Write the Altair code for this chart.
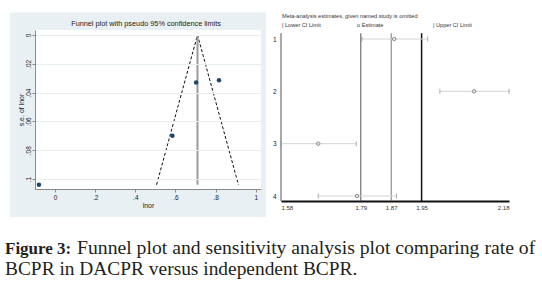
import altair as alt
import pandas as pd

# ---------------- Funnel plot ----------------
study_lnor = [0.817, 0.703, 0.585, -0.08]
study_se = [0.0315, 0.033, 0.070, 0.104]
funnel_lnor = [0.506, 0.71, 0.914]
funnel_se = [0.104, 0.0, 0.104]
pooled_lnor = [0.71]
pooled_se_top = [0.0]
pooled_se_bottom = [0.104]
left_x_ticks = [0, 0.2, 0.4, 0.6, 0.8, 1.0]
left_y_ticks = [0, 0.02, 0.04, 0.06, 0.08, 0.1]

# ---------------- Sensitivity analysis ----------------
studies = [1, 2, 3, 4]
lower_ci = [1.793, 1.998, 1.58, 1.678]
estimate = [1.878, 2.088, 1.678, 1.78]
upper_ci = [1.966, 2.18, 1.778, 1.884]
dark_grey_lines = [1.58, 1.79]
mid_grey_lines = [1.87]
dark_lines = [1.95]
right_x_ticks = [1.58, 1.79, 1.87, 1.95, 2.18]

SANS = "Liberation Sans"
SERIF = "Liberation Serif"
LW, LH = 226, 159
RW, RH = 228, 171

one = pd.DataFrame({"k": [0]})

xl = dict(scale=alt.Scale(domain=[-0.0997, 1.0264], nice=False, zero=False))
yl = dict(scale=alt.Scale(domain=[-0.00347, 0.10694], reverse=True, nice=False, zero=False))

x_axis_left = alt.Axis(
    values=left_x_ticks,
    labelExpr="datum.value == 0 ? '0' : datum.value == 1 ? '1' : replace(format(datum.value, '.1f'), '0.', '.')",
    grid=False, domainColor="#8a8a8a", tickColor="#8a8a8a", tickSize=3,
    labelFont=SANS, labelFontSize=6.5, labelColor="#222", labelPadding=2,
    title="lnor", titleFont=SANS, titleFontSize=7, titleFontWeight="normal", titleColor="#222",
    titleX=113, titleY=16.5, titleBaseline="middle", titleAlign="center", zindex=1,
)
y_axis_left = alt.Axis(
    values=left_y_ticks,
    labelExpr="datum.value == 0 ? '0' : replace(format(datum.value, '.2~f'), '0.', '.')",
    grid=True, gridColor="#e8eff1", gridWidth=1,
    domainColor="#8a8a8a", tickColor="#8a8a8a", tickSize=3,
    labelAngle=270, labelAlign="center", labelBaseline="bottom", labelPadding=1,
    labelFont=SANS, labelFontSize=6.5, labelColor="#222",
    title="s.e. of lnor", titleFont=SANS, titleFontSize=7, titleFontWeight="normal", titleColor="#222",
    titleAngle=270, titleX=-14, titleY=79.5, titleAlign="center", titleBaseline="middle", zindex=1,
)

bg = alt.Chart(one).mark_rect(color="#e9f0f3").encode(
    x=alt.value(-25), x2=alt.value(231), y=alt.value(-17.5), y2=alt.value(187)
)
plot_bg = alt.Chart(one).mark_rect(color="white").encode(
    x=alt.value(0), x2=alt.value(LW), y=alt.value(0), y2=alt.value(LH)
)

pts_df = pd.DataFrame({"lnor": study_lnor, "se": study_se})
points = alt.Chart(pts_df).mark_circle(size=20, color="#1a476f", opacity=1).encode(
    x=alt.X("lnor:Q", axis=x_axis_left, **xl),
    y=alt.Y("se:Q", axis=y_axis_left, **yl),
)

funnel_df = pd.DataFrame({"lnor": funnel_lnor, "se": funnel_se})
funnel = alt.Chart(funnel_df).mark_line(color="#111", strokeWidth=1, strokeDash=[3, 2]).encode(
    x=alt.X("lnor:Q", axis=x_axis_left, **xl),
    y=alt.Y("se:Q", axis=y_axis_left, **yl),
)

pooled_df = pd.DataFrame({"lnor": pooled_lnor, "se": pooled_se_top, "se2": pooled_se_bottom})
pooled = alt.Chart(pooled_df).mark_rule(color="#9a9a9a", strokeWidth=2).encode(
    x=alt.X("lnor:Q", axis=x_axis_left, **xl),
    y=alt.Y("se:Q", axis=y_axis_left, **yl),
    y2="se2:Q",
)

left_title = alt.Chart(one).mark_text(
    text="Funnel plot with pseudo 95% confidence limits", font=SANS, fontSize=7.3,
    color="#222", align="center", baseline="middle",
).encode(x=alt.value(111), y=alt.value(-6))

cap_bold = alt.Chart(one).mark_text(
    text="Figure 3:", font=SERIF, fontSize=17, fontWeight="bold", color="#231f20",
    align="left", baseline="alphabetic",
).encode(x=alt.value(-30), y=alt.value(224))
cap_l1 = alt.Chart(one).mark_text(
    text="Funnel plot and sensitivity analysis plot comparing rate of", font=SERIF, fontSize=19.7,
    color="#231f20", align="left", baseline="alphabetic",
).encode(x=alt.value(42), y=alt.value(224))
cap_l2 = alt.Chart(one).mark_text(
    text="BCPR in DACPR versus independent BCPR.", font=SERIF, fontSize=19.4,
    color="#231f20", align="left", baseline="alphabetic",
).encode(x=alt.value(-30), y=alt.value(245))

left = alt.layer(bg, plot_bg, funnel, pooled, points, left_title, cap_bold, cap_l1, cap_l2).properties(
    width=LW, height=LH
)

# ---------------- right panel ----------------
xr = dict(scale=alt.Scale(domain=[1.58, 2.18], nice=False, zero=False))
yr = dict(scale=alt.Scale(domain=[0.828, 4.0955], reverse=True, nice=False, zero=False))
x_axis_right = alt.Axis(
    values=right_x_ticks, format=".2f", grid=False, domainColor="#111", domainWidth=2,
    ticks=False, labelPadding=3, labelFont=SANS, labelFontSize=6, labelColor="#333", title=None,
)
y_axis_right = alt.Axis(
    values=studies, format="d", grid=False, domain=False, ticks=False, labelPadding=5,
    labelFont=SANS, labelFontSize=6.5, labelColor="#222", title=None,
)

ci_df = pd.DataFrame({"study": studies, "lower": lower_ci, "est": estimate, "upper": upper_ci})
line_top = 0.89
line_bottom = 4.0955


def ref_rule(vals, color, width):
    df = pd.DataFrame({"val": vals, "top": line_top, "bot": line_bottom})
    return alt.Chart(df).mark_rule(color=color, strokeWidth=width).encode(
        x=alt.X("val:Q", axis=x_axis_right, **xr),
        y=alt.Y("top:Q", axis=y_axis_right, **yr),
        y2="bot:Q",
    )


ref_a = ref_rule(dark_grey_lines, "#555555", 1)
ref_b = ref_rule(mid_grey_lines, "#777777", 1)
ref_c = ref_rule(dark_lines, "#111111", 1.5)

ci_lines = alt.Chart(ci_df).mark_rule(color="#d4d4d4", strokeWidth=1).encode(
    x=alt.X("lower:Q", axis=x_axis_right, **xr), x2="upper:Q",
    y=alt.Y("study:Q", axis=y_axis_right, **yr),
)
lo_ticks = alt.Chart(ci_df).mark_tick(orient="vertical", size=5, thickness=1, color="#8a8a8a").encode(
    x=alt.X("lower:Q", axis=x_axis_right, **xr), y=alt.Y("study:Q", axis=y_axis_right, **yr)
)
up_ticks = alt.Chart(ci_df).mark_tick(orient="vertical", size=5, thickness=1, color="#8a8a8a").encode(
    x=alt.X("upper:Q", axis=x_axis_right, **xr), y=alt.Y("study:Q", axis=y_axis_right, **yr)
)
est_pts = alt.Chart(ci_df).mark_point(shape="circle", filled=False, size=12, color="#8a8a8a", strokeWidth=1, opacity=1).encode(
    x=alt.X("est:Q", axis=x_axis_right, **xr), y=alt.Y("study:Q", axis=y_axis_right, **yr)
)


def rtext(t, x, y):
    return alt.Chart(one).mark_text(
        text=t, font=SANS, fontSize=5.6, color="#333", align="left", baseline="middle"
    ).encode(x=alt.value(x), y=alt.value(y))


right_title = rtext("Meta-analysis estimates, given named study is omitted", 1, -14)
leg1 = rtext("| Lower CI Limit", 1, -5)
leg2 = rtext("o Estimate", 76, -5)
leg3 = rtext("| Upper CI Limit", 152, -5)

right = alt.layer(ref_a, ref_b, ref_c, ci_lines, lo_ticks, up_ticks, est_pts,
                  right_title, leg1, leg2, leg3).properties(width=RW, height=RH)

chart = alt.hconcat(left, right, spacing=20, bounds="flush").properties(
    padding={"left": 5, "top": 12, "right": 0, "bottom": 0},
    background="white",
).configure_view(stroke=None)

chart.save("out.html", embed_options={"renderer": "svg", "actions": False})
